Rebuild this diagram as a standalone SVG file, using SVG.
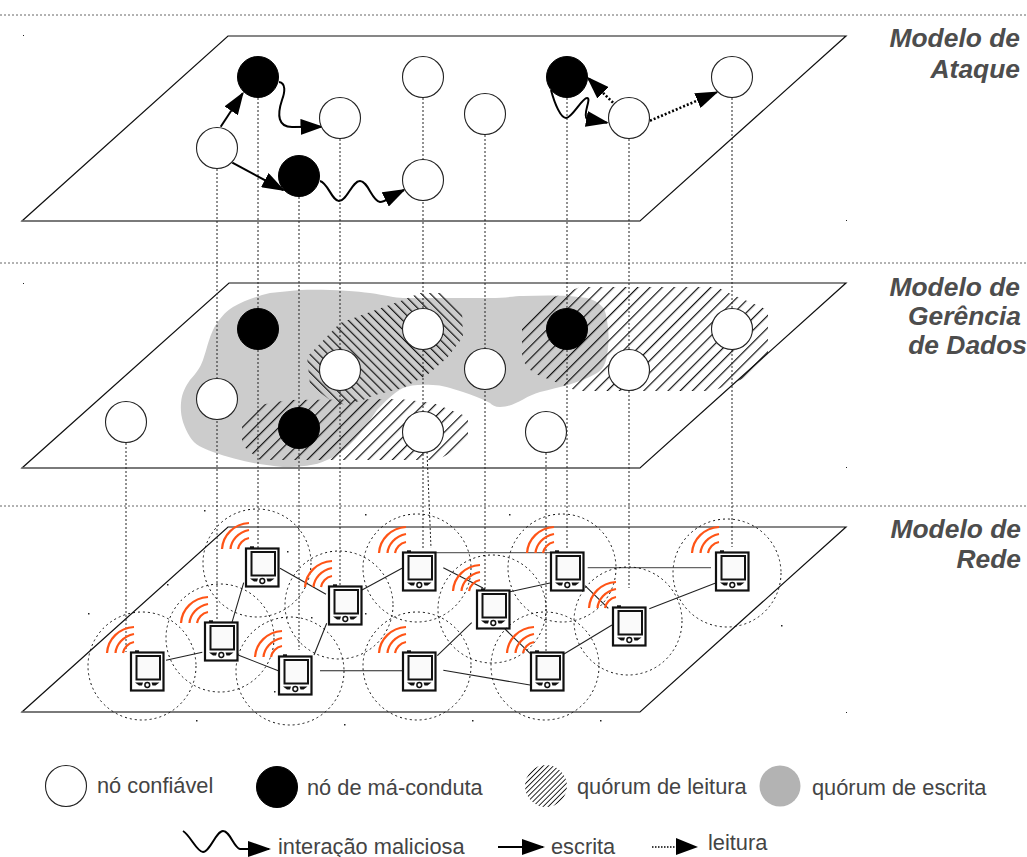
<svg xmlns="http://www.w3.org/2000/svg" xmlns:xlink="http://www.w3.org/1999/xlink" width="1027" height="857" viewBox="0 0 1027 857">
<style>
.plane{fill:none;stroke:#111;stroke-width:1.2}
.planeb{fill:none;stroke:#777;stroke-width:1.6}
.sep{stroke:#666;stroke-width:1;stroke-dasharray:2 2;fill:none}
.v{stroke:#222;stroke-width:1;stroke-dasharray:2 2;fill:none}
.wn{fill:#fff;stroke:#222;stroke-width:1.1}
.bn{fill:#000;stroke:#000;stroke-width:1}
.range{fill:none;stroke:#111;stroke-width:1;stroke-dasharray:2 3}
.link{fill:none;stroke:#222;stroke-width:1.1}
.linkg{fill:none;stroke:#666;stroke-width:1.2}
.w{fill:none;stroke:#000;stroke-width:2}
.r{fill:none;stroke:#000;stroke-width:2.6;stroke-dasharray:2 2}
.t{font-family:"Liberation Sans",Arial,sans-serif;font-size:21.8px;fill:#444}
.h{font-family:"Liberation Sans",Arial,sans-serif;font-size:26.4px;font-weight:bold;font-style:italic;fill:#4d4d4d;text-anchor:end}
.wave{fill:none;stroke:#ff5416;stroke-width:2.2}
</style>
<defs>
<marker id="ah" markerUnits="userSpaceOnUse" markerWidth="23" markerHeight="16" viewBox="0 0 23 16" refX="21" refY="8" orient="auto"><path d="M0 0L23 8L0 16Z" fill="#000"/></marker>
<pattern id="hb" patternUnits="userSpaceOnUse" width="6.4" height="6.4" patternTransform="rotate(-45)"><rect x="0" y="0" width="1.2" height="6.4" fill="#111"/></pattern>
<pattern id="hf" patternUnits="userSpaceOnUse" width="8.6" height="8.6" patternTransform="rotate(45)"><rect x="0" y="0" width="1.2" height="8.6" fill="#111"/></pattern>
<pattern id="hl" patternUnits="userSpaceOnUse" width="3.6" height="3.6" patternTransform="rotate(45)"><rect x="0" y="0" width="0.9" height="3.6" fill="#111"/></pattern>
<g id="dev">
<rect x="5" y="-1.7" width="4" height="2" fill="#111"/>
<rect x="1" y="0.5" width="32.5" height="38" fill="#fff" stroke="#111" stroke-width="2.2"/>
<rect x="6.5" y="4" width="23.5" height="23.5" fill="#fafafa" stroke="#111" stroke-width="2"/>
<circle cx="17.3" cy="33" r="2.4" fill="#fff" stroke="#111" stroke-width="1.5"/>
<path d="M5 30.5H13L12 33.5H9ZM29.5 30.5H21.5L22.5 33.5H25.5Z" fill="#111"/>
<path d="M-23 1C-22 -13 -11 -24 4 -25M-14.5 1C-14 -7 -7 -16 4 -18M-7 1C-6 -4 -2 -9 4 -10" class="wave"/>
</g>
</defs>

<path class="sep" d="M0 15H1027M0 263H1027M0 506H1027"/>
<path class="plane" d="M228 36H846L640 221H22Z"/>

<g id="regions">
<path d="M300 290C325 289 355 291 370 293C385 295 395 298 403 298L490 298C505 298 515 296 523 296C545 295 570 295 587 298C600 302 605 308 606 315C609 330 609 340 608 347C607 360 605 368 597 373C580 383 560 387 540 392C525 396 515 407 500 407C495 407 492 405 490 403C480 398 472 395 463 392C450 388 442 385 433 385C420 384 410 385 403 388C392 394 385 402 377 410C370 420 365 428 357 437C348 447 338 456 327 460C315 466 300 467 283 467C260 465 235 460 213 452C202 448 195 445 190 437C183 425 180 415 181 403C182 392 186 386 190 380C197 372 200 368 203 360C207 348 209 338 213 330C218 320 225 312 233 307C245 300 258 296 270 293Z" fill="#ccc"/>
<path d="M307 357L340 323L403 300L420 293H445L462 310L463 337L447 358L433 370L427 375L403 388L375 395L363 400L345 405L330 400L310 385Z" fill="url(#hb)"/>
<path d="M242 420L260 405L288 400L400 399L433 403L468 417V443L443 457L430 460H260L242 445Z" fill="url(#hf)"/>
<path d="M522 322L543 301L565 293L580 287H717L733 295L752 303L768 310V360L754 374L733 383L713 391H577L558 383L533 373L522 360Z" fill="url(#hf)"/>
</g>
<path class="plane" d="M229 283H846L640 468H22Z"/>
<path class="plane" d="M228 527H846L640 712H22Z"/>
<path class="planeb" d="M22 712H640M22 221H640M22 468H640"/>

<g id="guides">
<path class="v" d="M126 443V652M217 169V620M258 98V548M299 197V650M340 139V586M423 98V548M427 452L431 548M485 135V590M546 453V652M567 98V548M629 139V588M732 98V547"/>
</g>

<g id="connectors">
<path class="link" d="M166 660.3L202.3 652.3M232 622.3L243.7 582.7M280 568.3L326 594.3M238.7 655.3L278.3 670.7M314 655L326.7 623.3M320 670.7H402M362 590L402 568.3M443.3 567.7L483 588M510 591.7L550 583M505 629L530 653.3M437.3 655.7L471.7 622.7M443.3 670.3L530 685M564 654L612 625M585 585.7L608.3 608.3M649.3 608.7L715 583.3"/>
<path class="linkg" d="M436 552.7H550M587.7 567.7H711"/>
<path class="w" d="M220.7 126.7L242.7 93.3" marker-end="url(#ah)"/>
<path class="w" d="M279 82C286 83 285 92 282 100C277 115 278 127 292 127L321.5 126.7" marker-end="url(#ah)"/>
<path class="w" d="M232.3 162.7L283.3 190" marker-end="url(#ah)"/>
<path class="w" d="M320 181C328 183 332 201 339 201C347 201 352 181 360 181C368 181 372 201 380 202C385 202 390 197 404 190" marker-end="url(#ah)"/>
<path class="w" d="M551 90C555 105 561 118 566 118C572 118 582 98 587 98C592 98 582 115 587 119L607 122.7" marker-end="url(#ah)"/>
<path class="r" d="M613 102.7L588 78" marker-end="url(#ah)"/>
<path class="r" d="M650 120.7L716.7 92.3" marker-end="url(#ah)"/>
</g>

<g id="attack-nodes">
<circle id="a1" class="wn" cx="217" cy="148" r="20.5"/>
<circle id="a2" class="bn" cx="258" cy="77" r="20.5"/>
<circle id="a3" class="wn" cx="340" cy="118" r="20.5"/>
<circle id="a4" class="bn" cx="299" cy="176" r="20.5"/>
<circle id="a5" class="wn" cx="423" cy="77" r="20.5"/>
<circle id="a6" class="wn" cx="423" cy="180" r="20.5"/>
<circle id="a7" class="wn" cx="485" cy="114" r="20.5"/>
<circle id="a8" class="bn" cx="567" cy="77" r="20.5"/>
<circle id="a9" class="wn" cx="629" cy="118" r="20.5"/>
<circle id="a10" class="wn" cx="732" cy="77" r="20.5"/>
</g>
<g id="data-nodes">
<circle id="d0" class="wn" cx="126" cy="422" r="20.5"/>
<circle id="d1" class="wn" cx="217" cy="399" r="20.5"/>
<circle id="d2" class="bn" cx="258" cy="329" r="20.5"/>
<circle id="d3" class="wn" cx="340" cy="370" r="20.5"/>
<circle id="d4" class="bn" cx="299" cy="428" r="20.5"/>
<circle id="d5" class="wn" cx="423" cy="329" r="20.5"/>
<circle id="d6" class="wn" cx="423" cy="432" r="20.5"/>
<circle id="d7" class="wn" cx="485" cy="369" r="20.5"/>
<circle id="d8" class="bn" cx="567" cy="329" r="20.5"/>
<circle id="d9" class="wn" cx="629" cy="370" r="20.5"/>
<circle id="d10" class="wn" cx="732" cy="329" r="20.5"/>
<circle id="d11" class="wn" cx="546" cy="432" r="20.5"/>
</g>

<g id="n-a"><circle class="range" cx="142" cy="666" r="54"/><use href="#dev" x="130" y="652"/></g>
<g id="n-b"><circle class="range" cx="220" cy="638" r="54"/><use href="#dev" x="204" y="622"/></g>
<g id="n-c"><circle class="range" cx="257" cy="563" r="54"/><use href="#dev" x="245" y="548"/></g>
<g id="n-d"><circle class="range" cx="290" cy="671" r="54"/><use href="#dev" x="278" y="656"/></g>
<g id="n-e"><circle class="range" cx="339" cy="605" r="54"/><use href="#dev" x="328" y="586"/></g>
<g id="n-f"><circle class="range" cx="417" cy="568" r="54"/><use href="#dev" x="402" y="552"/></g>
<g id="n-g"><circle class="range" cx="417" cy="666" r="54"/><use href="#dev" x="402" y="652"/></g>
<g id="n-h"><circle class="range" cx="492" cy="609" r="54"/><use href="#dev" x="476" y="590"/></g>
<g id="n-i"><circle class="range" cx="562" cy="568" r="54"/><use href="#dev" x="550" y="552"/></g>
<g id="n-j"><circle class="range" cx="545" cy="666" r="54"/><use href="#dev" x="530" y="652"/></g>
<g id="n-k"><circle class="range" cx="628" cy="621" r="54"/><use href="#dev" x="612" y="607"/></g>
<g id="n-l"><circle class="range" cx="727" cy="573" r="54"/><use href="#dev" x="715" y="552"/></g>

<path id="specks" fill="#222" d="M204 510h1.5v1.5h-1.5ZM365 514h1.5v1.5h-1.5ZM88 613h1.5v1.5h-1.5ZM167 584h1.5v1.5h-1.5ZM287 551h1.5v1.5h-1.5ZM196 720h1.5v1.5h-1.5ZM344 724h1.5v1.5h-1.5ZM274 691h1.5v1.5h-1.5ZM365 613h1.5v1.5h-1.5ZM311 617h1.5v1.5h-1.5ZM509 514h1.5v1.5h-1.5ZM472 720h1.5v1.5h-1.5ZM600 720h1.5v1.5h-1.5ZM781 625h1.5v1.5h-1.5ZM23 35h1v1h-1ZM23 283h1v1h-1ZM846 220h1v1h-1ZM846 467h1v1h-1ZM846 712h1v1h-1Z"/>

<g id="titles">
<text class="h" x="1020" y="47">Modelo de</text>
<text class="h" x="1020" y="78">Ataque</text>
<text class="h" x="1020" y="296">Modelo de</text>
<text class="h" x="1021" y="325">Gerência</text>
<text class="h" x="1027" y="354">de Dados</text>
<text class="h" x="1021" y="538">Modelo de</text>
<text class="h" x="1021" y="568">Rede</text>
</g>

<g id="legend">
<circle class="wn" cx="66" cy="786" r="20.5"/>
<text class="t" x="97" y="793">nó confiável</text>
<circle class="bn" cx="277" cy="787" r="20.5"/>
<text class="t" x="307" y="795">nó de má-conduta</text>
<circle cx="546" cy="786" r="21" fill="url(#hl)"/>
<text class="t" x="577" y="794">quórum de leitura</text>
<circle cx="780" cy="786" r="20.5" fill="#b3b3b3"/>
<text class="t" x="812" y="795">quórum de escrita</text>
<path class="w" d="M183 831C190 835 197 852 203 852C210 852 216 831 223 831C230 831 234 848 240 849L269 849" marker-end="url(#ah)"/>
<text class="t" x="278" y="854">interação maliciosa</text>
<path class="w" d="M498 847H543" marker-end="url(#ah)"/>
<text class="t" x="551" y="854">escrita</text>
<path d="M652 847H680" fill="none" stroke="#000" stroke-width="1.5" stroke-dasharray="1.5 1.5"/>
<path d="M676 838L698 847L676 855Z" fill="#000"/>
<text class="t" x="708" y="850">leitura</text>
</g>
</svg>
